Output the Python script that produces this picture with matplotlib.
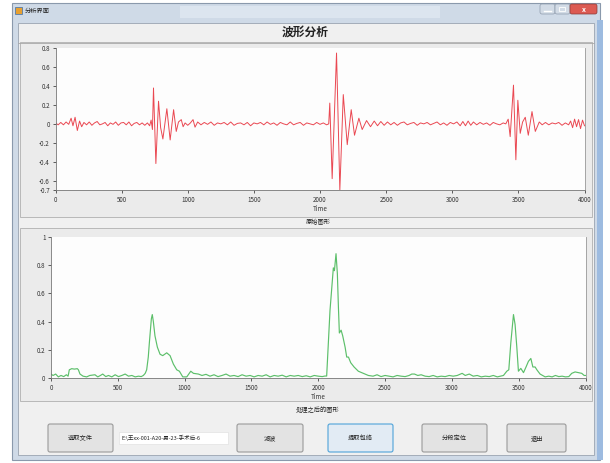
import matplotlib.pyplot as plt
from matplotlib.patches import Rectangle, FancyBboxPatch

plt.rcParams['font.family'] = ['Noto Sans CJK SC', 'DejaVu Sans']

# ---- texts of the form ----
window_title = "分析界面"
form_title = "波形分析"
raw_caption = "原始图形"
env_caption = "处理之后的图形"
button_labels = ["选取文件", "滤波", "提取包络", "分段定位", "退出"]
file_path = "E:\\王xx-001-A20-男-23-手术后-6"

# ---- raw signal (upper chart), key points ----
raw_t = [0, 20, 40, 60, 80, 100, 118, 132, 148, 165, 182, 198, 215, 235, 255, 275, 295,
         315, 335, 355, 375, 395, 415, 435, 455, 475, 495, 515, 535, 555, 575, 595, 615,
         635, 655, 675, 695,
         712, 723, 733, 741, 759, 779, 795, 812, 842, 867, 893, 913, 930, 951, 965, 980,
         1000, 1020, 1040, 1055, 1075, 1100, 1125, 1150, 1175, 1200, 1225, 1250, 1275,
         1300, 1325, 1350, 1375, 1400, 1425, 1450, 1475, 1500, 1525, 1550, 1575, 1600,
         1625, 1650, 1675, 1700, 1725, 1750, 1775, 1800, 1825, 1850, 1875, 1900, 1925,
         1950, 1975, 2000, 2025, 2050,
         2066, 2074, 2092, 2125, 2150, 2176, 2206, 2236, 2261, 2294, 2319, 2352, 2382,
         2410, 2435, 2460, 2485, 2510,
         2535, 2560, 2585, 2610, 2635, 2660, 2685, 2710, 2735, 2760, 2785, 2810, 2835,
         2860, 2885, 2910, 2935, 2960, 2985, 3010, 3035, 3060, 3080, 3100, 3120, 3140,
         3160, 3185, 3210, 3235, 3260, 3285, 3310, 3335, 3360, 3385,
         3405, 3423, 3438, 3463, 3481, 3496, 3514, 3532, 3552, 3575, 3603, 3628, 3658,
         3680, 3705, 3730, 3755, 3780, 3805, 3830, 3855, 3880, 3895, 3910, 3925, 3940,
         3955, 3970, 3985, 4000]
raw_v = [0.01, -0.01, 0.015, -0.01, 0.02, -0.005, 0.06, -0.02, 0.07, -0.07, 0.03, -0.03,
         0.015, -0.01, 0.02, -0.015, 0.01, 0.025, -0.01, 0.0, 0.015, -0.02, 0.01, -0.005,
         0.02, -0.015, 0.01, 0.015, -0.01, 0.02, -0.02, 0.005, 0.015, -0.01, 0.01, -0.015,
         0.01,
         -0.02, 0.04, -0.06, 0.38, -0.42, 0.24, -0.04, -0.16, 0.16, -0.17, 0.15, -0.08,
         0.02, 0.045, -0.03, 0.01,
         -0.015, 0.01, 0.045, -0.035, 0.02, -0.01, 0.015, -0.005, 0.02, -0.015, 0.01, 0.0,
         0.015, -0.01, 0.02, -0.015, 0.005, 0.01, -0.01, 0.015, -0.02, 0.01, 0.0, 0.015,
         -0.01, 0.02, -0.005, 0.01, -0.015, 0.015, 0.0, -0.01, 0.02, -0.01, 0.005, 0.015,
         -0.015, 0.01, 0.0, -0.01, 0.015, -0.005, 0.01, -0.01,
         0.0, 0.22, -0.58, 0.75, -0.70, 0.31, -0.22, 0.15, -0.12, 0.06, -0.06, 0.035,
         -0.03, 0.03, -0.02, 0.025, -0.015, 0.02,
         -0.01, 0.015, -0.015, 0.01, 0.02, -0.01, 0.005, 0.015, -0.015, 0.01, 0.0, 0.015,
         -0.01, 0.005, 0.02, -0.01, 0.01, -0.015, 0.015, 0.0, 0.02, -0.02, 0.025, -0.02,
         0.03, -0.015, 0.02, -0.01, 0.015, -0.005, 0.01, -0.015, 0.015, 0.0, -0.01, 0.01,
         0.0, 0.05, -0.135, 0.41, -0.38, 0.25, -0.10, 0.02, 0.07, -0.12, 0.13, -0.08, 0.02,
         -0.01, 0.015, -0.01, 0.01, 0.0, 0.015, -0.015, 0.01, -0.01, 0.03, -0.04, 0.05,
         -0.03, 0.045, -0.05, 0.04, -0.02]

# ---- processed envelope (lower chart) ----
env_t = [0, 15, 35, 55, 75, 95, 115, 128, 137, 155, 175, 197, 205, 217, 240, 267, 290,
         329, 350, 370, 387, 410, 430, 455, 480, 505, 530, 555, 580, 605, 630, 655, 675,
         691, 705, 716, 728, 736, 751, 758, 766, 778, 796, 816, 836, 851, 866, 891, 916,
         941, 961, 986, 1016, 1046, 1066, 1103, 1130, 1160, 1190, 1220, 1250, 1280, 1310,
         1340, 1370, 1400, 1430, 1460, 1490, 1520, 1550, 1580, 1610, 1640, 1670, 1700,
         1730, 1760, 1790, 1820, 1850, 1880, 1910, 1940, 1970, 2000, 2030, 2050,
         2063, 2088, 2106, 2113, 2121, 2133, 2143, 2151, 2158, 2171, 2183, 2201, 2213,
         2226, 2243, 2268, 2300, 2338, 2375,
         2410, 2440, 2470, 2500, 2530, 2560, 2590, 2620, 2650, 2680, 2700, 2720, 2745,
         2770, 2800, 2830, 2860, 2890, 2920, 2950, 2980, 3010, 3040, 3077, 3100, 3130,
         3160, 3190, 3220, 3250, 3280, 3310, 3340, 3365, 3386,
         3411, 3426, 3441, 3461, 3473, 3486, 3498, 3516, 3536, 3555, 3573, 3591, 3606,
         3623, 3636, 3660, 3698, 3725, 3750, 3775, 3800, 3825, 3850, 3875, 3897, 3922,
         3947, 3972, 3990, 4000]
env_v = [0.03, 0.02, 0.03, 0.01, 0.02, 0.012, 0.025, 0.015, 0.06, 0.068, 0.065, 0.068,
         0.06, 0.03, 0.015, 0.01, 0.02, 0.025, 0.01, 0.02, 0.03, 0.012, 0.02, 0.01, 0.025,
         0.012, 0.02, 0.03, 0.015, 0.02, 0.01, 0.015, 0.012,
         0.02, 0.035, 0.06, 0.15, 0.25, 0.42, 0.45, 0.40, 0.30, 0.22, 0.17, 0.16, 0.17,
         0.18, 0.16, 0.10, 0.06, 0.05, 0.01, 0.01, 0.05, 0.035, 0.03, 0.02, 0.028, 0.015,
         0.025, 0.012, 0.02, 0.03, 0.015, 0.02, 0.012, 0.025, 0.015, 0.02, 0.01, 0.02,
         0.015, 0.025, 0.01, 0.02, 0.015, 0.022, 0.01, 0.02, 0.015, 0.02, 0.012, 0.018,
         0.01, 0.02, 0.015, 0.012, 0.016,
         0.016, 0.48, 0.70, 0.78, 0.76, 0.88, 0.74, 0.50, 0.32, 0.34, 0.30, 0.22, 0.15,
         0.15, 0.11, 0.08, 0.05, 0.035, 0.02,
         0.015, 0.025, 0.012, 0.02, 0.015, 0.01, 0.02, 0.015, 0.012, 0.02, 0.03, 0.03,
         0.02, 0.025, 0.015, 0.012, 0.02, 0.01, 0.015, 0.012, 0.02, 0.015, 0.02, 0.035,
         0.02, 0.03, 0.015, 0.02, 0.01, 0.015, 0.012, 0.02, 0.01, 0.015, 0.02,
         0.05, 0.06, 0.25, 0.45, 0.38, 0.22, 0.05, 0.07, 0.04, 0.08, 0.12, 0.14, 0.08,
         0.08, 0.06, 0.03, 0.01, 0.015, 0.01, 0.02, 0.012, 0.015, 0.01, 0.012, 0.035,
         0.045, 0.04, 0.035, 0.02, 0.02]

x_ticks = [0, 500, 1000, 1500, 2000, 2500, 3000, 3500, 4000]
raw_yticks = [0.8, 0.6, 0.4, 0.2, 0, -0.2, -0.4, -0.6, -0.7]
raw_ylabels = ["0.8", "0.6", "0.4", "0.2", "0", "-0.2", "-0.4", "-0.6", "-0.7"]
env_yticks = [1, 0.8, 0.6, 0.4, 0.2, 0]
env_ylabels = ["1", "0.8", "0.6", "0.4", "0.2", "0"]

W, H = 610, 463
fig = plt.figure(figsize=(W / 100, H / 100), dpi=100)
fig.patch.set_facecolor("white")

# background layer in pixel coordinates for the window chrome
bg = fig.add_axes([0, 0, 1, 1])
bg.set_xlim(0, W)
bg.set_ylim(H, 0)
bg.axis("off")

# window frame + title bar
bg.add_patch(Rectangle((12, 3), 588, 457, facecolor="#cfdae7", edgecolor="#8a99ac", lw=0.8))
bg.add_patch(Rectangle((180, 6), 260, 12, facecolor="#dce5ef", edgecolor="none"))
bg.add_patch(Rectangle((597, 20), 6, 440, facecolor="#9dbbe0", edgecolor="none"))
bg.add_patch(Rectangle((18, 23), 576, 432, facecolor="#f0f0f0", edgecolor="#9aa4b1", lw=0.6))
bg.add_patch(Rectangle((15, 7), 7, 7, facecolor="#e8a030", edgecolor="#3a6fb0", lw=0.5))
bg.text(25, 11, window_title, fontsize=4.5, va="center", color="#222222")
bg.add_patch(FancyBboxPatch((540, 4), 15, 10, boxstyle="round,pad=0,rounding_size=2",
                            facecolor="#d2dbe6", edgecolor="#8d9aab", lw=0.5))
bg.add_patch(FancyBboxPatch((555, 4), 15, 10, boxstyle="round,pad=0,rounding_size=2",
                            facecolor="#d2dbe6", edgecolor="#8d9aab", lw=0.5))
bg.add_patch(FancyBboxPatch((570, 4), 27, 10, boxstyle="round,pad=0,rounding_size=2",
                            facecolor="#dc5a52", edgecolor="#8a3a36", lw=0.5))
bg.plot([544, 551], [11, 11], color="#ffffff", lw=1)
bg.add_patch(Rectangle((559, 7), 6, 4, facecolor="none", edgecolor="#ffffff", lw=0.6))
bg.text(583.5, 9, "x", fontsize=5, color="white", ha="center", va="center", fontweight="bold")
bg.plot([18, 594], [43, 43], color="#a8a8a8", lw=0.6)

bg.text(305, 32, form_title, fontsize=8.5, fontweight="bold", ha="center", va="center",
        color="#222222")

# the two chart panels
bg.add_patch(Rectangle((20, 42), 572, 175, facecolor="#ebebeb", edgecolor="#b0b0b0", lw=0.6))
bg.add_patch(Rectangle((20, 228), 572, 173, facecolor="#ebebeb", edgecolor="#b0b0b0", lw=0.6))
bg.text(318, 222.5, raw_caption, fontsize=4.5, ha="center", va="center", color="#222222")
bg.text(318, 410, env_caption, fontsize=4.5, ha="center", va="center", color="#222222")

# buttons along the bottom
button_boxes = [(48, 65), (237, 66), (328, 65), (422, 65), (507, 59)]
for (bx, bw), label in zip(button_boxes, button_labels):
    active = label == "提取包络"
    bg.add_patch(FancyBboxPatch((bx, 424), bw, 28, boxstyle="round,pad=0,rounding_size=2",
                                facecolor="#e2ebf4" if active else "#e3e3e3",
                                edgecolor="#4fa3d9" if active else "#9a9a9a", lw=0.8))
    bg.text(bx + bw / 2, 438, label, fontsize=4.5, ha="center", va="center", color="#222222")
bg.add_patch(Rectangle((119, 432), 109, 12, facecolor="white", edgecolor="#dddddd", lw=0.4))
bg.text(121, 438, file_path, fontsize=4, va="center", color="#222222")


def style_axes(ax, yticks, ylabels, ylim):
    ax.set_facecolor("#fdfdfd")
    ax.set_xlim(0, 4000)
    ax.set_ylim(*ylim)
    ax.set_xticks(x_ticks)
    ax.set_xticklabels([str(t) for t in x_ticks])
    ax.set_yticks(yticks)
    ax.set_yticklabels(ylabels)
    ax.tick_params(labelsize=4.5, length=2.5, width=0.6, colors="#444444", pad=1.5,
                   labelcolor="#333333")
    ax.spines["top"].set_visible(False)
    ax.spines["right"].set_color("#999999")
    ax.spines["left"].set_color("#777777")
    ax.spines["bottom"].set_color("#777777")
    for s in ax.spines.values():
        s.set_linewidth(0.6)
    ax.set_xlabel("Time", fontsize=4.5, labelpad=1, color="#333333")


# upper chart: raw signal
ax1 = fig.add_axes([55.5 / W, (H - 190) / H, 529 / W, 141.7 / H])
ax1.plot(raw_t, raw_v, color="#ea4852", lw=0.7)
style_axes(ax1, raw_yticks, raw_ylabels, (-0.7, 0.8))

# lower chart: envelope after processing
ax2 = fig.add_axes([51 / W, (H - 378.3) / H, 534.5 / W, 141.6 / H])
ax2.plot(env_t, env_v, color="#5cbf6a", lw=0.85)
style_axes(ax2, env_yticks, env_ylabels, (0, 1))

fig.savefig("out.png", dpi=100)
